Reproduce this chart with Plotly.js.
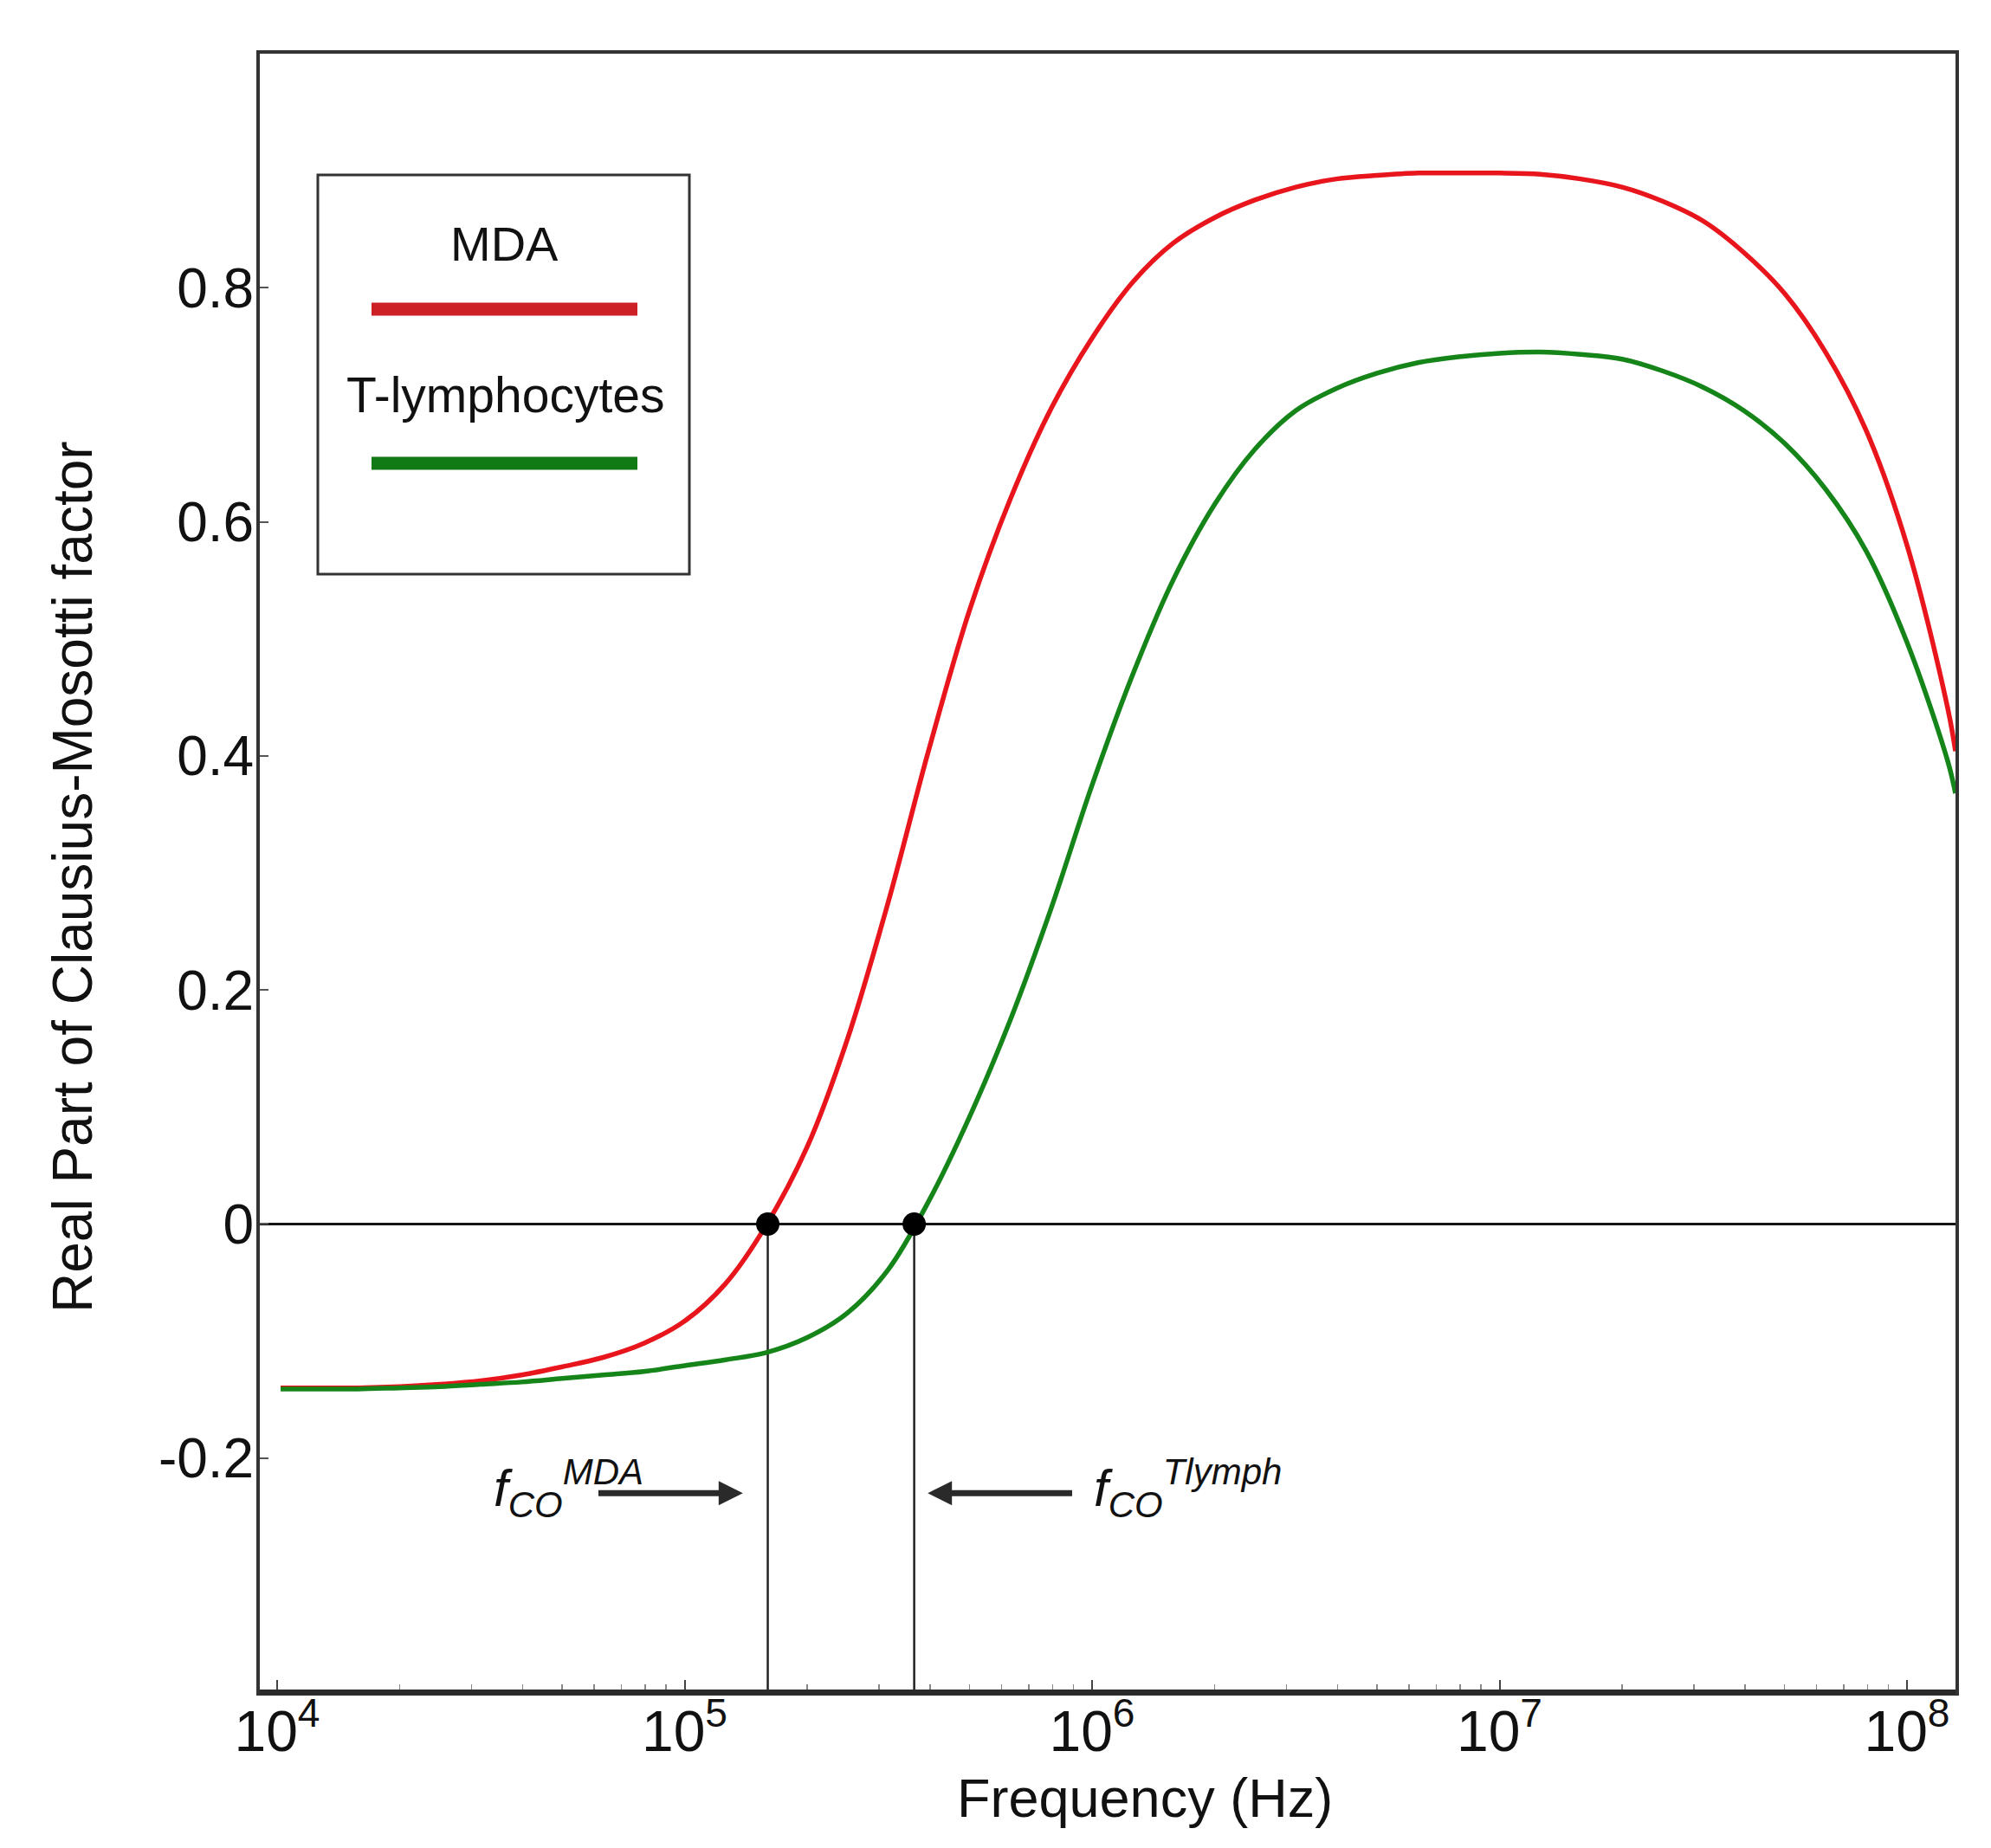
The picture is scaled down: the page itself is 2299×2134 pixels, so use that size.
<!DOCTYPE html>
<html>
<head>
<meta charset="utf-8">
<script src="https://cdn.plot.ly/plotly-3.0.1.min.js"></script>
<style>
  html, body { margin: 0; padding: 0; background: #ffffff; }
  #chart { width: 2299px; height: 2134px; }
</style>
</head>
<body>
<div id="chart"></div>
<script>
// ---------------- Data ----------------
const seriesNames = ["MDA", "T-lymphocytes"];
const seriesColors = ["#e8161c", "#15851a"];
const legendColors = ["#cc2027", "#117a14"];

// Sampled frequencies (Hz)
const freqHz = [1.02e4, 1.26e4, 1.58e4, 2.00e4, 2.51e4, 3.16e4, 3.98e4, 5.01e4, 6.31e4, 7.94e4,
                1.00e5, 1.26e5, 1.58e5, 2.00e5, 2.51e5, 3.16e5, 3.98e5, 5.01e5, 6.31e5, 7.94e5,
                1.00e6, 1.26e6, 1.58e6, 2.00e6, 2.51e6, 3.16e6, 3.98e6, 5.01e6, 6.31e6, 7.94e6,
                1.00e7, 1.26e7, 1.58e7, 2.00e7, 2.51e7, 3.16e7, 3.98e7, 5.01e7, 6.31e7, 7.94e7,
                1.00e8, 1.26e8, 1.315e8];

// Real part of Clausius-Mosotti factor, MDA cells
const cmMDA = [-0.140, -0.140, -0.140, -0.139, -0.137, -0.134, -0.129, -0.122, -0.114, -0.102,
               -0.083, -0.051, -0.002, 0.066, 0.158, 0.275, 0.406, 0.525, 0.620, 0.697,
               0.757, 0.805, 0.838, 0.860, 0.875, 0.886, 0.893, 0.896, 0.898, 0.898,
               0.898, 0.897, 0.893, 0.886, 0.874, 0.857, 0.830, 0.795, 0.745, 0.678,
               0.580, 0.440, 0.404];

// Real part of Clausius-Mosotti factor, T-lymphocytes
const cmTlymph = [-0.141, -0.141, -0.141, -0.140, -0.139, -0.137, -0.135, -0.132, -0.129, -0.126,
                  -0.121, -0.116, -0.110, -0.097, -0.076, -0.039, 0.020, 0.092, 0.175, 0.270,
                  0.375, 0.470, 0.550, 0.615, 0.662, 0.695, 0.714, 0.727, 0.736, 0.741,
                  0.744, 0.745, 0.743, 0.739, 0.729, 0.715, 0.695, 0.667, 0.628, 0.575,
                  0.497, 0.395, 0.368];

// Crossover frequencies (Hz)
const crossoverFreq = [1.60e5, 3.66e5];
const crossoverLabels = [
  "<i>f</i><sub><i>CO</i></sub><sup><i>MDA</i></sup>",
  "<i>f</i><sub><i>CO</i></sub><sup><i>Tlymph</i></sup>"
];

// Axis ticks and titles
const xTickVals = [1e4, 1e5, 1e6, 1e7, 1e8];
const xTickText = ["10<sup>4</sup>", "10<sup>5</sup>", "10<sup>6</sup>", "10<sup>7</sup>", "10<sup>8</sup>"];
const yTickVals = [-0.2, 0, 0.2, 0.4, 0.6, 0.8];
const yTickText = ["-0.2", "0", "0.2", "0.4", "0.6", "0.8"];
const xTitle = "Frequency (Hz)";
const yTitle = "Real Part of Clausius-Mosotti factor";
const xRangeLog = [3.9575, 8.119];
const yRange = [-0.4, 1.0];

// Arrow levels / label anchors (in axis units)
const arrowY = -0.230;
const arrowTipHz = [1.39e5, 3.95e5];
const arrowTailHz = [6.1e4, 9.0e5];
const labelHz = [5.18e4, 1.72e6];
const labelY = -0.226;

// ---------------- Traces ----------------
const FONT = "Liberation Sans, Arial, Helvetica, sans-serif";

const traces = [];
crossoverFreq.forEach(f => {
  traces.push({
    x: [f, f], y: [0, yRange[0]], mode: "lines", type: "scatter",
    line: { color: "#222222", width: 2.5 }, hoverinfo: "skip", showlegend: false
  });
});
traces.push({
  x: freqHz, y: cmMDA, name: seriesNames[0], type: "scatter", mode: "lines",
  line: { color: seriesColors[0], width: 5.5, shape: "spline", smoothing: 1.0 }, showlegend: false
});
traces.push({
  x: freqHz, y: cmTlymph, name: seriesNames[1], type: "scatter", mode: "lines",
  line: { color: seriesColors[1], width: 5.5, shape: "spline", smoothing: 1.0 }, showlegend: false
});
traces.push({
  x: crossoverFreq, y: crossoverFreq.map(() => 0), type: "scatter", mode: "markers",
  marker: { color: "#000000", size: 27 }, hoverinfo: "skip", showlegend: false
});

// ---------------- Legend box (shapes + annotations) ----------------
const W = 2299, H = 2134, ML = 300, MR = 41, MT = 62, MB = 180;
const PW = W - ML - MR, PH = H - MT - MB;
const px = v => (v - ML) / PW;
const py = v => (H - MB - v) / PH;

const shapes = [
  { type: "rect", xref: "paper", yref: "paper", x0: px(367), x1: px(796), y0: py(663), y1: py(202),
    line: { color: "#333333", width: 3 }, fillcolor: "rgba(255,255,255,0)" },
  { type: "line", xref: "paper", yref: "paper", x0: px(429), x1: px(736), y0: py(357), y1: py(357),
    line: { color: legendColors[0], width: 15 } },
  { type: "line", xref: "paper", yref: "paper", x0: px(429), x1: px(736), y0: py(535), y1: py(535),
    line: { color: legendColors[1], width: 15 } },
  { type: "line", xref: "paper", yref: "paper", x0: 0, x1: 1, y0: 0, y1: 0,
    line: { color: "#2a2a2a", width: 6 } }
];

const annotations = [
  { xref: "paper", yref: "paper", x: px(582), y: py(281), text: seriesNames[0], showarrow: false,
    xanchor: "center", yanchor: "middle", font: { family: FONT, size: 56, color: "#111111" } },
  { xref: "paper", yref: "paper", x: px(583), y: py(456), text: seriesNames[1], showarrow: false,
    xanchor: "center", yanchor: "middle", font: { family: FONT, size: 57, color: "#111111" } },
  { xref: "paper", yref: "paper", x: px(1322), y: py(2076), text: xTitle, showarrow: false,
    xanchor: "center", yanchor: "middle", font: { family: FONT, size: 63, color: "#111111" } },
  { xref: "paper", yref: "paper", x: px(84), y: py(1013), text: yTitle, showarrow: false, textangle: -90,
    xanchor: "center", yanchor: "middle", font: { family: FONT, size: 64, color: "#111111" } }
];

for (let i = 0; i < 2; i++) {
  annotations.push({
    x: Math.log10(arrowTipHz[i]), y: arrowY, ax: Math.log10(arrowTailHz[i]), ay: arrowY,
    xref: "x", yref: "y", axref: "x", ayref: "y", text: "", showarrow: true,
    arrowhead: 2, arrowsize: 0.8, arrowwidth: 7, arrowcolor: "#2a2a2a", standoff: 0
  });
  annotations.push({
    x: Math.log10(labelHz[i]), y: labelY, xref: "x", yref: "y", text: crossoverLabels[i],
    showarrow: false, xanchor: "center", yanchor: "middle",
    font: { family: FONT, size: 60, color: "#111111" }
  });
}

// ---------------- Layout ----------------
const layout = {
  width: W, height: H,
  margin: { l: ML, r: MR, t: MT, b: MB, pad: 0 },
  paper_bgcolor: "#ffffff", plot_bgcolor: "#ffffff",
  font: { family: FONT, color: "#111111" },
  showlegend: false,
  xaxis: {
    type: "log", range: xRangeLog, tickvals: xTickVals, ticktext: xTickText,
    ticks: "inside", ticklen: 14, tickwidth: 2, tickcolor: "#444444",
    minor: { dtick: "D1", ticks: "inside", ticklen: 9, tickwidth: 1.5, tickcolor: "#888888", showgrid: false },
    showgrid: false, zeroline: false,
    showline: true, mirror: true, linecolor: "#333333", linewidth: 4,
    tickfont: { family: FONT, size: 66, color: "#111111" },
    ticklabelstandoff: -15
  },
  yaxis: {
    range: yRange, tickvals: yTickVals, ticktext: yTickText,
    ticks: "inside", ticklen: 10, tickwidth: 2, tickcolor: "#555555",
    showgrid: false,
    zeroline: true, zerolinecolor: "#151515", zerolinewidth: 3,
    showline: true, mirror: true, linecolor: "#333333", linewidth: 4,
    tickfont: { family: FONT, size: 64, color: "#111111" },
    ticklabelstandoff: -10
  },
  shapes: shapes,
  annotations: annotations
};

Plotly.newPlot("chart", traces, layout, { displayModeBar: false, staticPlot: true });
</script>
</body>
</html>
